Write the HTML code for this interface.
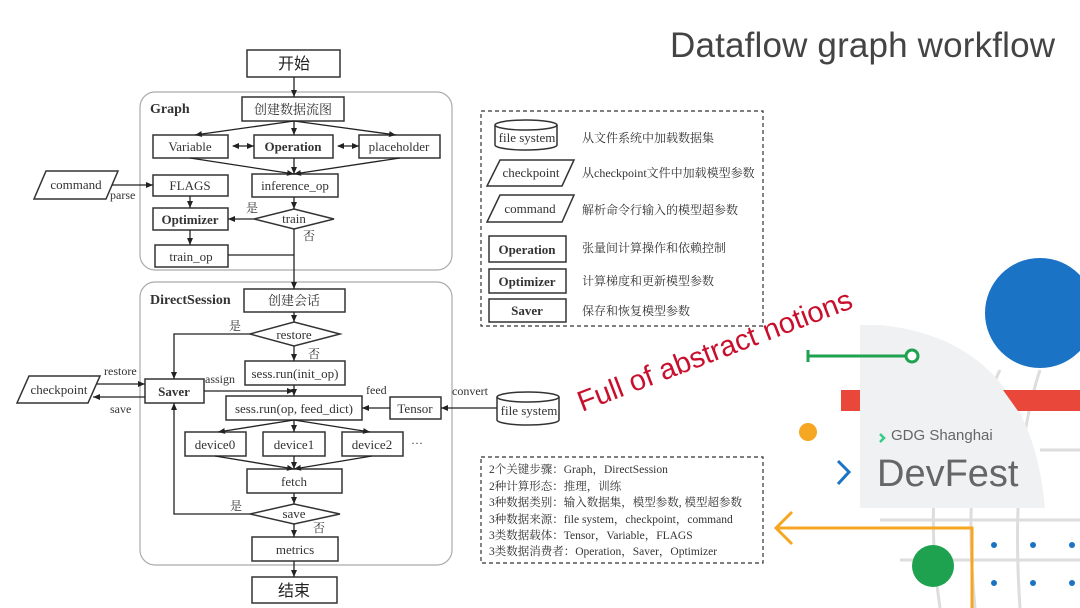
<!DOCTYPE html>
<html><head><meta charset="utf-8"><style>
body{margin:0;background:#fff}
svg{display:block}
text{font-family:"Liberation Serif","Noto Serif CJK SC",serif;fill:#333}
</style></head><body>
<svg width="1080" height="608" viewBox="0 0 1080 608" xmlns="http://www.w3.org/2000/svg">
<defs>
<marker id="a" markerWidth="8" markerHeight="8" refX="7" refY="4" orient="auto" markerUnits="userSpaceOnUse"><path d="M0,1 L7,4 L0,7Z" fill="#222"/></marker>
<marker id="s" markerWidth="8" markerHeight="8" refX="1" refY="4" orient="auto" markerUnits="userSpaceOnUse"><path d="M7,1 L0,4 L7,7Z" fill="#222"/></marker>
</defs>
<!-- decorations -->
<g fill="none" stroke="#ddd" stroke-width="3">
<path d="M1000,370 Q960,450 975,608"/><path d="M1040,370 Q1010,460 1020,608"/><path d="M960,380 Q920,470 940,608"/>
<path d="M880,520 L1080,520"/><path d="M900,560 L1080,560"/><path d="M1040,450 L1080,450"/>
</g>
<path d="M860,325 L880,325 Q1030,340 1045,508 L860,508Z" fill="#f0f1f3"/>
<circle cx="1040" cy="313" r="55" fill="#1a73c4"/>
<path d="M808,350 V362 M808,356 H906" stroke="#1ea24f" stroke-width="3" fill="none"/>
<circle cx="912" cy="356" r="6" fill="#fff" stroke="#1ea24f" stroke-width="3"/>
<rect x="841" y="390" width="19" height="21" fill="#e8473a"/>
<path d="M1003,390 L1080,390 L1080,411 L1018,411Z" fill="#e8473a"/>
<circle cx="808" cy="432" r="9" fill="#f5a623"/>
<path d="M838,461 L849,472 L838,484" stroke="#1a73c4" stroke-width="3" fill="none"/>
<path d="M880,434 L884,438 L880,442" stroke="#3c8" stroke-width="2.5" fill="none"/>
<text x="891" y="440" style="font-family:'Liberation Sans',sans-serif;font-size:15px;fill:#666">GDG Shanghai</text>
<text x="877" y="486" style="font-family:'Liberation Sans',sans-serif;font-size:38px;fill:#666">DevFest</text>
<path d="M972,608 V528 H776 M792,512 L776,528 L792,544" stroke="#f5a623" stroke-width="3" fill="none"/>
<circle cx="933" cy="566" r="21" fill="#1ea24f"/>
<g fill="#1a73c4"><circle cx="994" cy="545" r="3"/><circle cx="1033" cy="545" r="3"/><circle cx="1072" cy="545" r="3"/><circle cx="994" cy="583" r="3"/><circle cx="1033" cy="583" r="3"/><circle cx="1072" cy="583" r="3"/></g>
<text x="670" y="57" textLength="385" style="font-family:'Liberation Sans',sans-serif;font-size:35px;fill:#444">Dataflow graph workflow</text>
<text x="0" y="0" transform="translate(582,412) rotate(-21)" style="font-family:'Liberation Sans',sans-serif;font-size:29px;fill:#c8102e">Full of abstract notions</text>

<!-- containers -->
<rect x="140" y="92" width="312" height="178" rx="15" fill="none" stroke="#aaa" stroke-width="1.2"/>
<rect x="140" y="282" width="312" height="283" rx="15" fill="none" stroke="#aaa" stroke-width="1.2"/>
<g stroke="#333" stroke-width="1.5" fill="#fff">
<rect x="247" y="50" width="93" height="27"/>
<rect x="242" y="97" width="102" height="24"/>
<rect x="153" y="135" width="75" height="23"/>
<rect x="254" y="135" width="79" height="23"/>
<rect x="359" y="135" width="81" height="23"/>
<rect x="153" y="175" width="75" height="21"/>
<rect x="252" y="174" width="86" height="23"/>
<path d="M46,171 L118,171 L106,199 L34,199Z"/>
<path d="M254,219 L294,209 L334,219 L294,229Z"/>
<rect x="153" y="208" width="75" height="22"/>
<rect x="155" y="245" width="73" height="22"/>
<rect x="244" y="289" width="101" height="23"/>
<path d="M250,334 L294,322 L340,334 L294,346Z"/>
<rect x="245" y="361" width="100" height="24"/>
<rect x="145" y="379" width="59" height="24"/>
<path d="M29,376 L100,376 L88,403 L17,403Z"/>
<rect x="226" y="396" width="136" height="24"/>
<rect x="390" y="397" width="51" height="22"/>
<rect x="185" y="432" width="61" height="24"/>
<rect x="263" y="432" width="62" height="24"/>
<rect x="342" y="432" width="61" height="24"/>
<rect x="247" y="469" width="95" height="24"/>
<path d="M250,514 L294,504 L340,514 L294,524Z"/>
<rect x="252" y="537" width="86" height="24"/>
<rect x="252" y="577" width="85" height="26"/>
<path d="M497,397 A31,5 0 0 1 559,397 V420 A31,5 0 0 1 497,420Z"/>
<path d="M497,397 A31,5 0 0 0 559,397" fill="none"/>
</g>
<g stroke="#222" stroke-width="1.3" fill="none" marker-end="url(#a)">
<path d="M294,77 V97"/>
<path d="M294,121 L195,135"/><path d="M294,121 V135"/><path d="M294,121 L396,135"/>
<path d="M233,146 H254" marker-start="url(#s)"/><path d="M338,146 H359" marker-start="url(#s)"/>
<path d="M190,158 L294,174"/><path d="M294,158 V174"/><path d="M400,158 L294,174"/>
<path d="M112,185 H153"/>
<path d="M190,196 V208"/><path d="M190,230 V245"/>
<path d="M294,197 V209"/><path d="M254,219 H228"/>
<path d="M294,229 V289"/><path d="M228,255 H294" marker-end="none"/>
<path d="M294,312 V322"/><path d="M294,346 V361"/>
<path d="M250,334 H174 V379"/>
<path d="M294,385 V396"/><path d="M204,391 H294"/>
<path d="M97,384 H145"/><path d="M145,397 H93"/>
<path d="M390,408 H362"/><path d="M497,408 H441"/>
<path d="M294,420 L218,432"/><path d="M294,420 V432"/><path d="M294,420 L370,432"/>
<path d="M215,456 L294,469"/><path d="M294,456 V469"/><path d="M372,456 L294,469"/>
<path d="M294,493 V504"/><path d="M250,514 H174 V403"/>
<path d="M294,524 V537"/><path d="M294,561 V577"/>
</g>
<g style="font-size:13px" text-anchor="middle">
<text x="294" y="69" style="font-size:16px;font-family:'Noto Sans CJK SC',sans-serif;fill:#222">开始</text>
<text x="293" y="114" style="font-family:'Noto Serif CJK SC',serif">创建数据流图</text>
<text x="190" y="151">Variable</text>
<text x="293" y="151" font-weight="bold">Operation</text>
<text x="399" y="151">placeholder</text>
<text x="190" y="190">FLAGS</text>
<text x="295" y="190">inference_op</text>
<text x="76" y="189">command</text>
<text x="294" y="223">train</text>
<text x="190" y="224" font-weight="bold">Optimizer</text>
<text x="191" y="261">train_op</text>
<text x="294" y="305" style="font-family:'Noto Serif CJK SC',serif">创建会话</text>
<text x="294" y="339">restore</text>
<text x="295" y="378">sess.run(init_op)</text>
<text x="174" y="396" font-weight="bold">Saver</text>
<text x="59" y="394">checkpoint</text>
<text x="294" y="413">sess.run(op, feed_dict)</text>
<text x="415" y="413">Tensor</text>
<text x="215" y="449">device0</text>
<text x="294" y="449">device1</text>
<text x="372" y="449">device2</text>
<text x="294" y="486">fetch</text>
<text x="294" y="518">save</text>
<text x="295" y="554">metrics</text>
<text x="294" y="596" style="font-size:16px;font-family:'Noto Sans CJK SC',sans-serif;fill:#222">结束</text>
<text x="529" y="415">file system</text>
</g>
<g style="font-size:12px">
<text x="150" y="113" style="font-size:14px" font-weight="bold">Graph</text>
<text x="150" y="304" style="font-size:14px" font-weight="bold">DirectSession</text>
<text x="110" y="199">parse</text>
<text x="246" y="212">是</text><text x="303" y="240">否</text>
<text x="229" y="330">是</text><text x="308" y="358">否</text>
<text x="104" y="375">restore</text><text x="110" y="413">save</text>
<text x="205" y="383">assign</text><text x="366" y="394">feed</text>
<text x="452" y="395">convert</text><text x="411" y="444">…</text>
<text x="230" y="510">是</text><text x="313" y="532">否</text>
</g>

<!-- legend -->
<rect x="481" y="111" width="282" height="215" fill="none" stroke="#333" stroke-width="1.2" stroke-dasharray="4,3"/>
<g stroke="#333" stroke-width="1.5" fill="#fff">
<path d="M495,125 A31,5 0 0 1 557,125 V145 A31,5 0 0 1 495,145Z"/>
<path d="M495,125 A31,5 0 0 0 557,125" fill="none"/>
<path d="M500,160 L574,160 L562,186 L487,186Z"/>
<path d="M500,195 L574,195 L562,222 L487,222Z"/>
<rect x="489" y="236" width="77" height="26"/>
<rect x="489" y="269" width="77" height="24"/>
<rect x="489" y="299" width="77" height="23"/>
</g>
<g style="font-size:13px" text-anchor="middle">
<text x="527" y="142">file system</text>
<text x="531" y="177">checkpoint</text>
<text x="530" y="213">command</text>
<text x="527" y="254" font-weight="bold">Operation</text>
<text x="527" y="286" font-weight="bold">Optimizer</text>
<text x="527" y="315" font-weight="bold">Saver</text>
</g>
<g style="font-size:12px;fill:#555">
<text x="582" y="142">从文件系统中加载数据集</text>
<text x="582" y="177">从checkpoint文件中加载模型参数</text>
<text x="582" y="214">解析命令行输入的模型超参数</text>
<text x="582" y="252">张量间计算操作和依赖控制</text>
<text x="582" y="285">计算梯度和更新模型参数</text>
<text x="582" y="315">保存和恢复模型参数</text>
</g>
<rect x="481" y="457" width="282" height="106" fill="none" stroke="#333" stroke-width="1.2" stroke-dasharray="4,3"/>
<g style="font-size:11.5px;fill:#444">
<text x="489" y="473">2个关键步骤：Graph，DirectSession</text>
<text x="489" y="490">2种计算形态：推理，训练</text>
<text x="489" y="506">3种数据类别：输入数据集，模型参数, 模型超参数</text>
<text x="489" y="523">3种数据来源：file system，checkpoint，command</text>
<text x="489" y="539">3类数据载体：Tensor，Variable，FLAGS</text>
<text x="489" y="555">3类数据消费者：Operation，Saver，Optimizer</text>
</g>
</svg>
</body></html>
